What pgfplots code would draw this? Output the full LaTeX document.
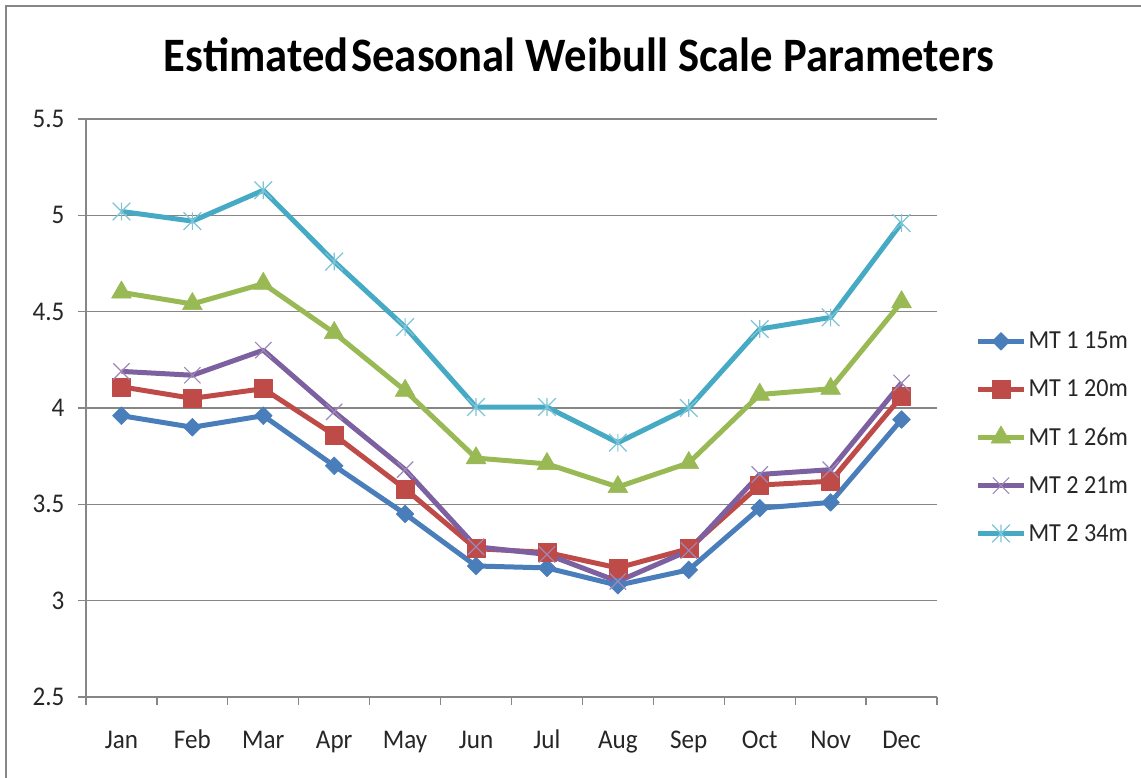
\documentclass[border=0pt]{standalone}
\usepackage{pgfplots}
\pgfplotsset{compat=1.18}
\usepackage{fontspec}
\setmainfont{Carlito}[FakeStretch=0.93]
\definecolor{cblue}{HTML}{4A7EBB}
\definecolor{cred}{HTML}{BE4B48}
\definecolor{cgreen}{HTML}{98B954}
\definecolor{cpurple}{HTML}{7D60A0}
\definecolor{ccyan}{HTML}{46AAC5}
\definecolor{gridc}{HTML}{868686}
\pgfdeclareplotmark{xstar}{%
 \pgfpathmoveto{\pgfqpointpolar{45}{\pgfplotmarksize}}\pgfpathlineto{\pgfqpointpolar{225}{\pgfplotmarksize}}%
 \pgfpathmoveto{\pgfqpointpolar{135}{\pgfplotmarksize}}\pgfpathlineto{\pgfqpointpolar{315}{\pgfplotmarksize}}%
 \pgfpathmoveto{\pgfqpoint{0pt}{.7071\pgfplotmarksize}}\pgfpathlineto{\pgfqpoint{0pt}{-.7071\pgfplotmarksize}}%
 \pgfusepathqstroke}
\begin{document}
\begin{tikzpicture}
\path[use as bounding box] (0pt,0pt) rectangle (1141pt,778pt);
\draw[gridc, line width=2pt] (6pt,0pt) -- (6pt,772pt) -- (1141pt,772pt);
\node[anchor=base, font=\fontsize{48}{58}\selectfont\bfseries] at (579pt,706pt) {Estimated\kern3pt Seasonal Weibull Scale Parameters};
\begin{axis}[
 at={(86pt,81pt)}, anchor=south west, scale only axis, width=851pt, height=578pt,
 xmin=-0.5, xmax=11.5, ymin=2.5, ymax=5.5,
 xtick={0,...,11}, xticklabels={Jan,Feb,Mar,Apr,May,Jun,Jul,Aug,Sep,Oct,Nov,Dec},
 major x tick style={draw=none},
 minor xtick={-0.5,0.5,...,11.5},
 ytick={2.5,3,...,5.5},
 tick align=outside, major tick length=8pt, minor tick length=8pt,
 axis lines*=left,
 ymajorgrids, grid style={gridc, line width=1.2pt},
 axis line style={gridc, line width=1.2pt},
 tick style={gridc, line width=1.2pt},
 ticklabel style={font=\fontsize{27}{31}\selectfont, text=black!85},
 yticklabel style={xshift=-10pt},
 xticklabel style={anchor=north, yshift=-33pt, text height=0.7em, text depth=0.25em},
 /pgf/number format/assume math mode=true,
 legend style={at={(1.045,0.449)}, anchor=west, draw=none, fill=none,
   font=\fontsize{26}{30}\selectfont, row sep=25.5pt, inner sep=0pt,
   nodes={text=black!85}},
 legend cell align=left,
 legend image code/.code={\draw[mark repeat=2,mark phase=2,#1] plot coordinates {(0pt,0pt) (23pt,0pt) (46pt,0pt)};},
 every axis plot/.append style={line width=5pt, line join=round},
]
\addplot[cblue, mark=square*, mark size=6.3pt, mark options={rotate=45, line width=0.5pt}] coordinates {
(0,3.96) (1,3.90) (2,3.96) (3,3.70) (4,3.45) (5,3.18) (6,3.17) (7,3.08) (8,3.16) (9,3.48) (10,3.51) (11,3.94)};
\addlegendentry{MT 1 15m}
\addplot[cred, mark=square*, mark size=9pt, mark options={line width=0.5pt}] coordinates {
(0,4.11) (1,4.05) (2,4.10) (3,3.86) (4,3.58) (5,3.27) (6,3.25) (7,3.17) (8,3.27) (9,3.60) (10,3.62) (11,4.06)};
\addlegendentry{MT 1 20m}
\addplot[cgreen, mark=triangle*, mark size=11.5pt, mark options={line width=0.5pt}] coordinates {
(0,4.60) (1,4.54) (2,4.645) (3,4.39) (4,4.09) (5,3.74) (6,3.71) (7,3.59) (8,3.715) (9,4.07) (10,4.10) (11,4.55)};
\addlegendentry{MT 1 26m}
\addplot[cpurple, mark=x, mark size=11.5pt, mark options={cpurple!75!white, line width=1.2pt}] coordinates {
(0,4.19) (1,4.17) (2,4.30) (3,3.98) (4,3.68) (5,3.28) (6,3.24) (7,3.10) (8,3.26) (9,3.655) (10,3.68) (11,4.13)};
\addlegendentry{MT 2 21m}
\addplot[ccyan, mark=xstar, mark size=12.5pt, mark options={ccyan!70!white, line width=1.2pt}] coordinates {
(0,5.02) (1,4.97) (2,5.13) (3,4.76) (4,4.42) (5,4.005) (6,4.005) (7,3.82) (8,4.00) (9,4.41) (10,4.47) (11,4.96)};
\addlegendentry{MT 2 34m}
\end{axis}
\end{tikzpicture}
\end{document}
